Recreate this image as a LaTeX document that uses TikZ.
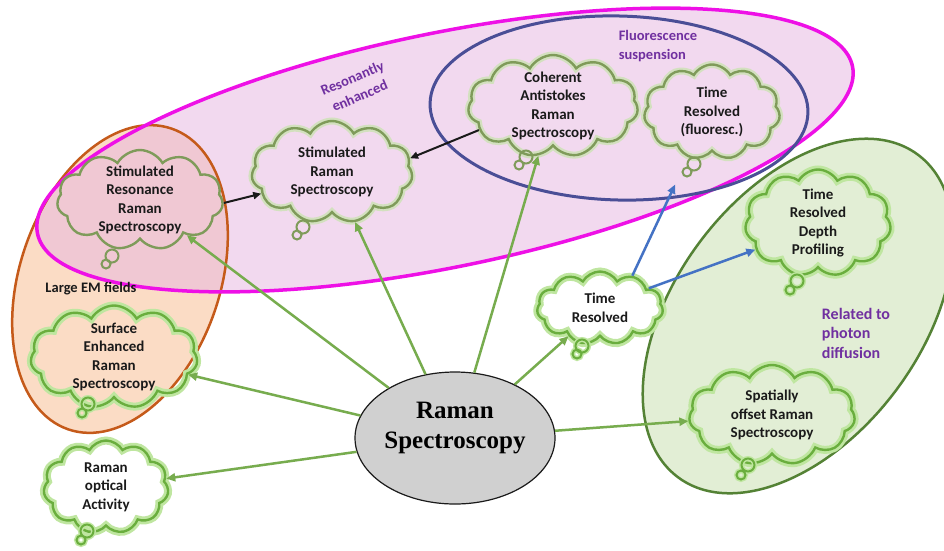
\documentclass[tikz,border=0pt]{standalone}
\usepackage{fontspec}
\setmainfont{Carlito}
\newfontfamily\hubfont{Liberation Serif}
\usetikzlibrary{arrows.meta,shapes.symbols,shapes.geometric}
\definecolor{ink}{HTML}{1A1A1A}
\definecolor{magline}{HTML}{EE10E6}
\definecolor{magfill}{HTML}{E7B5E1}
\definecolor{orline}{HTML}{C55A1A}
\definecolor{orfill}{HTML}{FBDCC5}
\definecolor{blline}{HTML}{4A4E96}
\definecolor{grline}{HTML}{548235}
\definecolor{grfill}{HTML}{E2EED5}
\definecolor{olive}{HTML}{7F9B5A}
\definecolor{leaf}{HTML}{6AAE3E}
\definecolor{glow}{HTML}{BFE6A0}
\definecolor{arrgreen}{HTML}{77AC4E}
\definecolor{arrblue}{HTML}{4472C4}
\definecolor{purp}{HTML}{7030A0}
\definecolor{hubgray}{HTML}{D0D0D0}
\tikzset{
  cloudbase/.style={cloud,cloud puffs=11,cloud puff arc=120,cloud ignores aspect,line width=2.4pt,inner xsep=-8pt,inner ysep=-14pt,align=center,font=\bfseries\fontsize{15}{18.5}\selectfont,text=ink},
  idea/.style={cloudbase,draw=leaf,preaction={draw=glow,line width=8pt}},
  ideao/.style={cloudbase,draw=olive,preaction={draw=glow,draw opacity=.6,line width=7pt}},
  ideaf/.style={cloudbase,draw=olive},
  tail/.style={draw=leaf,line width=2pt,preaction={draw=glow,line width=5pt}},
  tailo/.style={draw=olive,line width=2pt},
  hub/.style={ellipse,draw=ink,line width=1.2pt,fill=hubgray,minimum width=200pt,minimum height=132pt,inner sep=0pt},
  hubtext/.style={align=center,font=\hubfont\bfseries\fontsize{25}{30}\selectfont,text=black},
  lab/.style={align=center,font=\bfseries\fontsize{14.5}{19}\selectfont,text=purp},
  labk/.style={font=\bfseries\fontsize{14.5}{18}\selectfont,text=ink},
  ar/.style={-{Triangle[length=9pt,width=8pt]},draw=arrgreen,line width=2.5pt},
  arb/.style={-{Triangle[length=9pt,width=8pt]},draw=arrblue,line width=2.5pt},
  ark/.style={-{Triangle[length=8pt,width=7pt]},draw=ink,line width=2pt},
}
\begin{document}
\begin{tikzpicture}[x=1pt,y=-1pt]
\useasboundingbox (0,0) rectangle (944,550);
\clip (0,0) rectangle (944,550);
\fill[white] (0,0) rectangle (944,550);
\fill[orfill,rotate around={71:(120,279)}] (120,279) ellipse (159 and 100);
\fill[magfill,fill opacity=.5,rotate around={11.6:(445,150)}] (445,150) ellipse (416 and 117);
\draw[orline,line width=2.5pt,rotate around={71:(120,279)}] (120,279) ellipse (159 and 100);
\draw[magline,line width=3.5pt,rotate around={11.6:(445,150)}] (445,150) ellipse (416 and 117);
\draw[blline,line width=3pt,rotate around={-1.5:(619,108)}] (619,108) ellipse (189 and 92);
\draw[grline,line width=2.5pt,fill=grfill,rotate around={53.4:(798,316)}] (798,316) ellipse (201 and 123);

\node[ideaf,minimum width=166pt,minimum height=100pt] (srrs) at (140,200) {Stimulated\\Resonance\\Raman\\Spectroscopy};
\node[ideao,minimum width=161pt,minimum height=102pt] (srs) at (332,172) {Stimulated\\Raman\\Spectroscopy};
\node[ideao,minimum width=170pt,minimum height=102pt] (cars) at (553,106) {Coherent\\Antistokes\\Raman\\Spectroscopy};
\node[ideao,minimum width=136pt,minimum height=95pt] (trf) at (712,112) {Time\\Resolved\\(fluoresc.)};
\node[idea,minimum width=146pt,minimum height=107pt] (trdp) at (818,223) {Time\\Resolved\\Depth\\Profiling};
\node[idea,minimum width=126pt,minimum height=73pt] (tr) at (600,308) {Time\\Resolved};
\node[idea,minimum width=167pt,minimum height=103pt] (sers) at (114,357) {Surface\\Enhanced\\Raman\\Spectroscopy};
\node[idea,minimum width=125pt,minimum height=93pt] (roa) at (106,487) {Raman\\optical\\Activity};
\node[idea,minimum width=166pt,minimum height=100pt] (sors) at (772,415) {Spatially\\offset Raman\\Spectroscopy};

\draw[tailo] (112,256) circle (6.5) (106,264) circle (4.5);
\draw[tailo] (303,227) circle (6.5) (297,235) circle (4.5);
\draw[tailo] (526,157) circle (6.5) (519,165) circle (4.5);
\draw[tailo] (694,164) circle (6.5) (687,172) circle (4.5);
\draw[tail] (797,281) circle (6.5) (790,290) circle (4.5);
\draw[tail] (582,346) circle (6.5) (577,354) circle (4.5);
\draw[tail] (88,404) circle (6.5) (82,413) circle (4.5);
\draw[tail] (87,531) circle (6.5) (81,540) circle (4.5);
\draw[tail] (748,465) circle (6.5) (741,475) circle (4.5);

\node[lab,rotate=23] (reso) at (356,87) {Resonantly\\enhanced};
\node[lab,align=left] (fluo) at (658,46) {Fluorescence\\suspension};
\node[labk] (emf) at (91,289) {Large EM fields};
\node[lab,align=left,font=\bfseries\fontsize{16}{19.5}\selectfont] (phot) at (856,333) {Related to\\photon\\diffusion};

\node[hub] (hub) at (455,438) {};
\node[hubtext] (hubt) at (455,428) {Raman\\Spectroscopy};

\draw[ar] (hub) -- (srrs);
\draw[ar] (hub) -- (srs);
\draw[ar] (hub) -- (cars);
\draw[ar] (hub) -- (tr);
\draw[ar] (hub) -- (sers);
\draw[ar] (hub) -- (roa);
\draw[ar] (hub) -- (sors);
\draw[arb,shorten >=30pt] (tr.45) -- (trf.242);
\draw[arb] (tr.22) -- (trdp.203);
\draw[ark] (srrs.-2) -- (srs.197);
\draw[ark] (cars.198) -- (srs.10);
\end{tikzpicture}
\end{document}
